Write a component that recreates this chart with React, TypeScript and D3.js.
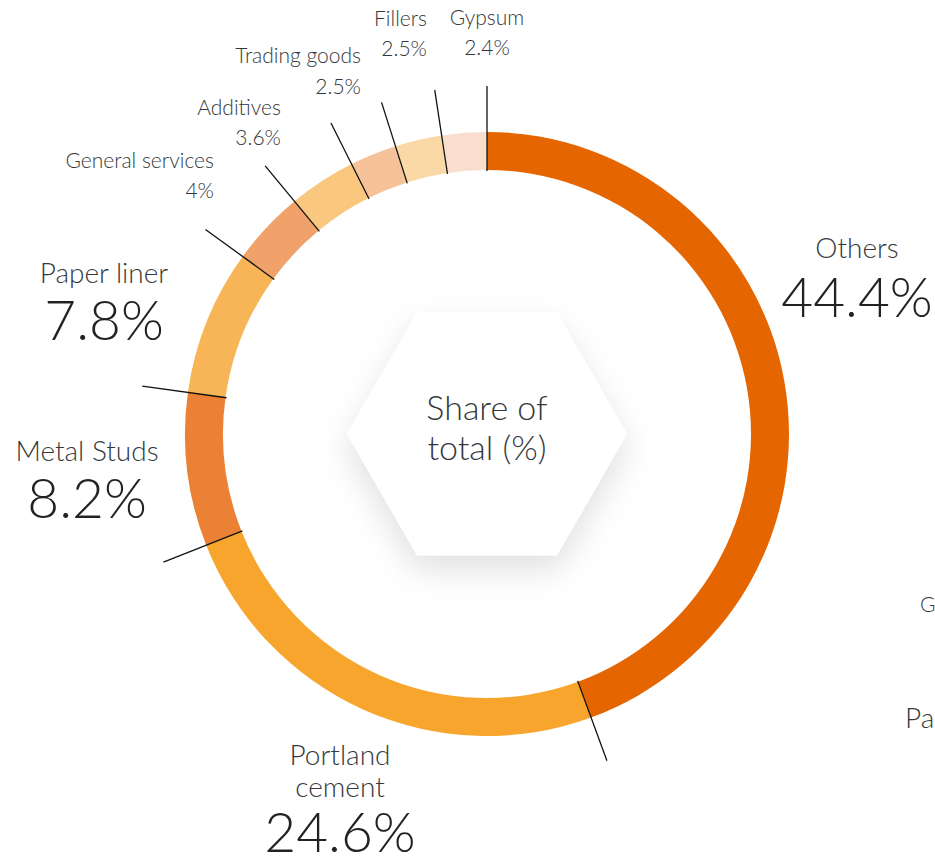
import React from "react";
import * as d3 from "d3";

const categories = ["Others", "Portland cement", "Metal Studs", "Paper liner", "General services", "Additives", "Trading goods", "Fillers", "Gypsum"];
const shares = [44.4, 24.6, 8.2, 7.8, 4, 3.6, 2.5, 2.5, 2.4];
const valueLabels = ["44.4%", "24.6%", "8.2%", "7.8%", "4%", "3.6%", "2.5%", "2.5%", "2.4%"];
const colors = ["#E56500", "#F7A52C", "#EB8135", "#F7B557", "#F0A26A", "#F9C77E", "#F5C29A", "#FBD9A7", "#F9DECE"];
const centerLines = ["Share of", "total (%)"];

const W = 935;
const H = 860;
const cx = 487;
const cy = 434;
const rOuter = 302;
const rInner = 264;
const FONT = "Lato, 'Open Sans', sans-serif";
const NAME_COLOR = "#35383b";
const VALUE_COLOR = "#1f2326";

type LabelSpec = { lines: string[]; x: number; y: number[]; anchor: string; size: number; big: boolean };

// label layout (positions per category index)
const labelLayout: LabelSpec[] = [
  { lines: ["Others"], x: 857, y: [258, 317], anchor: "middle", size: 28, big: true },
  { lines: ["Portland", "cement"], x: 340, y: [765, 797, 852], anchor: "middle", size: 28, big: true },
  { lines: ["Metal Studs"], x: 87, y: [461, 518], anchor: "middle", size: 28, big: true },
  { lines: ["Paper liner"], x: 104, y: [283, 340], anchor: "middle", size: 28, big: true },
  { lines: ["General services"], x: 214, y: [168, 198], anchor: "end", size: 21, big: false },
  { lines: ["Additives"], x: 281, y: [115, 145], anchor: "end", size: 21, big: false },
  { lines: ["Trading goods"], x: 361, y: [63, 94], anchor: "end", size: 21, big: false },
  { lines: ["Fillers"], x: 427, y: [26, 56], anchor: "end", size: 21, big: false },
  { lines: ["Gypsum"], x: 487, y: [25, 55], anchor: "middle", size: 21, big: false },
];

export default function App() {
  const pie = d3.pie<number>().sort(null).value((d) => d);
  const arcs = pie(shares);
  const arcGen = d3.arc<d3.PieArcDatum<number>>().innerRadius(rInner).outerRadius(rOuter);

  const hex = d3.range(6).map((i) => {
    const a = (Math.PI / 3) * i;
    return [cx + 140 * Math.cos(a), cy + 140 * Math.sin(a)];
  });
  const hexPath = "M" + hex.map((p) => p.join(",")).join("L") + "Z";

  return (
    <svg width={W} height={H} style={{ position: "absolute", left: 0, top: 0, background: "#fff" }}>
      <defs>
        <filter id="hexShadow" x="-30%" y="-30%" width="160%" height="170%">
          <feDropShadow dx="0" dy="14" stdDeviation="16" floodColor="#000" floodOpacity="0.12" />
        </filter>
      </defs>
      <g transform={`translate(${cx},${cy})`}>
        {arcs.map((a, i) => (
          <path key={i} d={arcGen(a) || ""} fill={colors[i]} />
        ))}
      </g>
      {arcs.map((a, i) => {
        const ang = a.startAngle;
        const r1 = rInner - 1;
        const r2 = 348;
        return (
          <line
            key={"l" + i}
            x1={cx + r1 * Math.sin(ang)}
            y1={cy - r1 * Math.cos(ang)}
            x2={cx + r2 * Math.sin(ang)}
            y2={cy - r2 * Math.cos(ang)}
            stroke="#111"
            strokeWidth={1.3}
          />
        );
      })}
      <path d={hexPath} fill="#fff" filter="url(#hexShadow)" />
      {centerLines.map((t, i) => (
        <text key={"c" + i} x={cx} y={420 + i * 40} textAnchor="middle" fontFamily={FONT} fontWeight={300} fontSize={34} fill={NAME_COLOR}>
          {t}
        </text>
      ))}
      {labelLayout.map((lab, i) => (
        <g key={"lab" + i} fontFamily={FONT} fontWeight={300}>
          {lab.lines.map((ln, j) => (
            <text key={j} x={lab.x} y={lab.y[j]} textAnchor={lab.anchor} fontSize={lab.size} fill={NAME_COLOR}>
              {ln}
            </text>
          ))}
          <text
            x={lab.x}
            y={lab.y[lab.lines.length]}
            textAnchor={lab.anchor}
            fontSize={lab.big ? 55 : 21}
            fill={lab.big ? VALUE_COLOR : NAME_COLOR}
          >
            {valueLabels[i]}
          </text>
        </g>
      ))}
      <text x={920} y={612} fontFamily={FONT} fontWeight={300} fontSize={21} fill={NAME_COLOR}>General services</text>
      <text x={905} y={728} fontFamily={FONT} fontWeight={300} fontSize={28} fill={NAME_COLOR}>Paper liner</text>
    </svg>
  );
}
